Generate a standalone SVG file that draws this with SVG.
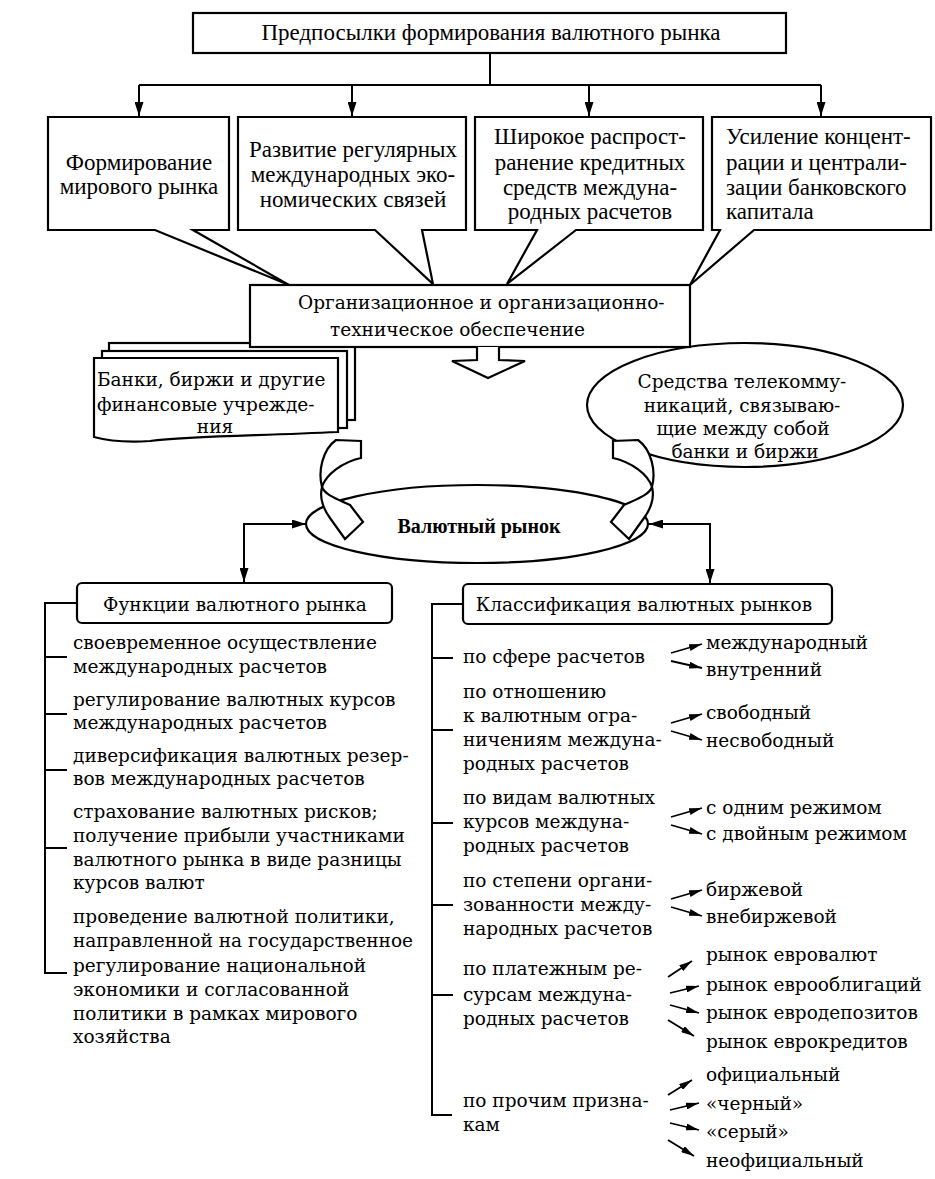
<svg xmlns="http://www.w3.org/2000/svg" width="935" height="1179" viewBox="0 0 935 1179">
<style>
.b{fill:#fff;stroke:#000;stroke-width:2.2;stroke-linejoin:miter}
.ln{fill:none;stroke:#000;stroke-width:2}
.sa{fill:none;stroke:#000;stroke-width:1.8}
.t1{font-family:"Liberation Serif","Times New Roman",serif;font-size:23px;fill:#000}
.t2{font-family:"DejaVu Serif","Liberation Serif",serif;font-size:18.5px;fill:#000}
.bd{font-family:"Liberation Serif","Times New Roman",serif;font-size:20px;font-weight:bold;fill:#000}
.m{text-anchor:middle}
</style>
<defs>
<marker id="ah" viewBox="0 0 14 9" refX="14" refY="4.5" markerWidth="14" markerHeight="9" markerUnits="userSpaceOnUse" orient="auto"><path d="M0,0 L14,4.5 L0,9 Z" fill="#000"/></marker>
<marker id="as" viewBox="0 0 13 7" refX="13" refY="3.5" markerWidth="13" markerHeight="7" markerUnits="userSpaceOnUse" orient="auto"><path d="M0,0 L13,3.5 L0,7 Z" fill="#000"/></marker>
</defs>
<rect width="935" height="1179" fill="#fff"/>

<g id="n-top">
<rect class="b" x="193" y="13" width="593" height="40"/>
<text class="t1 m" x="491" y="40">Предпосылки формирования валютного рынка</text>
</g>

<g id="n-box1">
<path class="b" d="M48 117 L229 117 L229 230 L193 230 L289 285 L155 230 L48 230 Z"/>
<text class="t1 m" x="139" y="170">Формирование</text>
<text class="t1 m" x="139" y="194">мирового рынка</text>
</g>
<g id="n-box2">
<path class="b" d="M238 117 L466 117 L466 230 L422 230 L433 284 L375 230 L238 230 Z"/>
<text class="t1 m" x="353" y="157">Развитие регулярных</text>
<text class="t1 m" x="353" y="182">международных эко-</text>
<text class="t1 m" x="353" y="207">номических связей</text>
</g>
<g id="n-box3">
<path class="b" d="M475 117 L703 117 L703 230 L576 230 L507 284 L537 230 L475 230 Z"/>
<text class="t1 m" x="590" y="144">Широкое распрост-</text>
<text class="t1 m" x="590" y="170">ранение кредитных</text>
<text class="t1 m" x="590" y="195">средств междуна-</text>
<text class="t1 m" x="590" y="219">родных расчетов</text>
</g>
<g id="n-box4">
<path class="b" d="M712 117 L931 117 L931 230 L754 230 L690 285 L720 230 L712 230 Z"/>
<text class="t1" x="726" y="144">Усиление концент-</text>
<text class="t1" x="726" y="170">рации и централи-</text>
<text class="t1" x="726" y="195">зации банковского</text>
<text class="t1" x="726" y="219">капитала</text>
</g>

<g id="n-banks">
<rect class="b" x="109" y="343" width="246" height="77"/>
<rect class="b" x="102" y="351" width="245" height="77"/>
<path class="b" d="M94 358 L338 358 L338 432 C 250 436 190 436 150 441 C 120 443 105 440 94 437 Z"/>
<text class="t2" x="97" y="386">Банки, биржи и другие</text>
<text class="t2" x="97" y="411">финансовые учрежде-</text>
<text class="t2 m" x="215" y="433">ния</text>
</g>

<g id="n-telecom">
<ellipse class="b" cx="745" cy="405" rx="158" ry="62"/>
<text class="t2 m" x="742" y="388">Средства телекомму-</text>
<text class="t2 m" x="742" y="412">никаций, связываю-</text>
<text class="t2 m" x="743" y="435">щие между собой</text>
<text class="t2 m" x="745" y="458">банки и биржи</text>
</g>

<g id="n-org">
<rect class="b" x="250" y="285" width="440" height="62"/>
<text class="t2" x="298" y="309">Организационное и организационно-</text>
<text class="t2" x="330" y="336">техническое обеспечение</text>
</g>

<g id="n-market">
<ellipse class="b" cx="477" cy="524" rx="171" ry="39"/>
<text class="bd m" x="479" y="533">Валютный рынок</text>
</g>

<g id="n-functions">
<rect class="b" x="77" y="583" width="315" height="40" rx="5"/>
<text class="t2 m" x="235" y="611">Функции валютного рынка</text>
</g>

<g id="n-classes">
<rect class="b" x="463" y="584" width="369" height="40" rx="5"/>
<text class="t2 m" x="644" y="611">Классификация валютных рынков</text>
</g>

<g id="n-func-items" class="t2">
<text x="73" y="649">своевременное осуществление</text>
<text x="73" y="673">международных расчетов</text>
<text x="73" y="706">регулирование валютных курсов</text>
<text x="73" y="729">международных расчетов</text>
<text x="73" y="762">диверсификация валютных резер-</text>
<text x="73" y="785">вов международных расчетов</text>
<text x="73" y="818">страхование валютных рисков;</text>
<text x="73" y="842">получение прибыли участниками</text>
<text x="73" y="866">валютного рынка в виде разницы</text>
<text x="73" y="889">курсов валют</text>
<text x="73" y="923">проведение валютной политики,</text>
<text x="73" y="947">направленной на государственное</text>
<text x="73" y="972">регулирование национальной</text>
<text x="73" y="996">экономики и согласованной</text>
<text x="73" y="1020">политики в рамках мирового</text>
<text x="73" y="1043">хозяйства</text>
</g>

<g id="n-class-criteria" class="t2">
<text x="463" y="663">по сфере расчетов</text>
<text x="463" y="698">по отношению</text>
<text x="463" y="722">к валютным огра-</text>
<text x="463" y="746">ничениям междуна-</text>
<text x="463" y="770">родных расчетов</text>
<text x="463" y="804">по видам валютных</text>
<text x="463" y="828">курсов междуна-</text>
<text x="463" y="852">родных расчетов</text>
<text x="463" y="887">по степени органи-</text>
<text x="463" y="911">зованности между-</text>
<text x="463" y="935">народных расчетов</text>
<text x="463" y="975">по платежным ре-</text>
<text x="463" y="1001">сурсам междуна-</text>
<text x="463" y="1025">родных расчетов</text>
<text x="463" y="1107">по прочим призна-</text>
<text x="463" y="1131">кам</text>
</g>

<g id="n-class-values" class="t2">
<text x="706" y="649">международный</text>
<text x="706" y="676">внутренний</text>
<text x="706" y="719">свободный</text>
<text x="706" y="747">несвободный</text>
<text x="706" y="814">с одним режимом</text>
<text x="706" y="840">с двойным режимом</text>
<text x="706" y="896">биржевой</text>
<text x="706" y="923">внебиржевой</text>
<text x="706" y="961">рынок евровалют</text>
<text x="706" y="991">рынок еврооблигаций</text>
<text x="706" y="1019">рынок евродепозитов</text>
<text x="706" y="1048">рынок еврокредитов</text>
<text x="706" y="1081">официальный</text>
<text x="706" y="1110">«черный»</text>
<text x="706" y="1138">«серый»</text>
<text x="706" y="1167">неофициальный</text>
</g>

<g id="connectors">
<path class="ln" d="M490 53 V85 M139 85 H821"/>
<path class="ln" d="M139 85 V116" marker-end="url(#ah)"/>
<path class="ln" d="M352 85 V116" marker-end="url(#ah)"/>
<path class="ln" d="M589 85 V116" marker-end="url(#ah)"/>
<path class="ln" d="M821 85 V116" marker-end="url(#ah)"/>
<path class="b" d="M477 347 L477 360 L452 361 L488 378 L525 361 L499 360 L499 347"/>
<path id="ribbon-left" class="b" d="M336 440 L361 441 L361 458 C343 462 326 474 322 487 C319 498 324 510 330 518 L345 539 L363 522 L350 505 C337 499 325 495 322 487 C318 472 322 450 336 440 Z"/>
<path id="ribbon-right" class="b" transform="translate(974 0) scale(-1 1)" d="M336 440 L361 441 L361 458 C343 462 326 474 322 487 C319 498 324 510 330 518 L345 539 L363 522 L350 505 C337 499 325 495 322 487 C318 472 322 450 336 440 Z"/>
<path class="ln" d="M244 524 H306" marker-end="url(#ah)"/>
<path class="ln" d="M244 523 V582" marker-end="url(#ah)"/>
<path class="ln" d="M710 524 H649" marker-end="url(#ah)"/>
<path class="ln" d="M710 523 V583" marker-end="url(#ah)"/>
<path class="ln" d="M77 603 H45 V973 H67 M45 657 H67 M45 714 H67 M45 770 H67 M45 848 H67"/>
<path class="ln" d="M463 604 H432 V1115 H452 M432 658 H453 M432 730 H453 M432 823 H453 M432 905 H453 M432 995 H453"/>
<path class="sa" d="M671 653 L702 644" marker-end="url(#as)"/>
<path class="sa" d="M671 661 L702 668" marker-end="url(#as)"/>
<path class="sa" d="M671 723 L702 714" marker-end="url(#as)"/>
<path class="sa" d="M671 731 L702 740" marker-end="url(#as)"/>
<path class="sa" d="M671 817 L702 808" marker-end="url(#as)"/>
<path class="sa" d="M671 825 L702 834" marker-end="url(#as)"/>
<path class="sa" d="M671 899 L702 890" marker-end="url(#as)"/>
<path class="sa" d="M671 907 L702 916" marker-end="url(#as)"/>
<path class="sa" d="M668 977 L692 961" marker-end="url(#as)"/>
<path class="sa" d="M670 993 L699 986" marker-end="url(#as)"/>
<path class="sa" d="M670 1005 L699 1013" marker-end="url(#as)"/>
<path class="sa" d="M668 1020 L694 1036" marker-end="url(#as)"/>
<path class="sa" d="M668 1095 L692 1080" marker-end="url(#as)"/>
<path class="sa" d="M670 1110 L699 1103" marker-end="url(#as)"/>
<path class="sa" d="M670 1123 L699 1130" marker-end="url(#as)"/>
<path class="sa" d="M668 1140 L694 1156" marker-end="url(#as)"/>
</g>
</svg>
